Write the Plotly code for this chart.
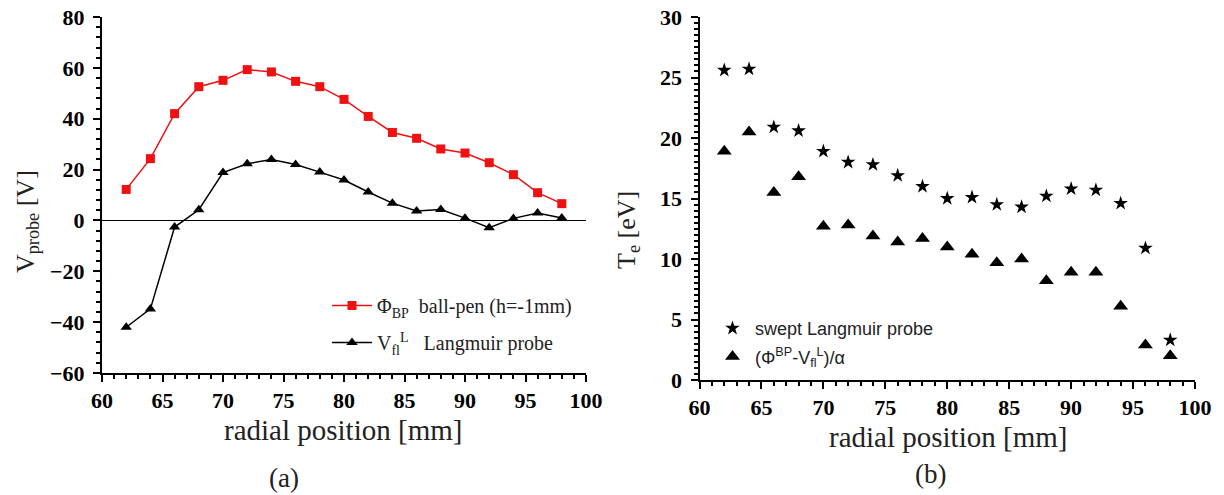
import plotly.graph_objects as go

# ---- data ----
r_mm = [62, 64, 66, 68, 70, 72, 74, 76, 78, 80, 82, 84, 86, 88, 90, 92, 94, 96, 98]
phi_bp = [12.2, 24.3, 42.0, 52.6, 55.1, 59.3, 58.4, 54.7, 52.6, 47.6, 40.9, 34.6, 32.3, 28.1, 26.5, 22.7, 18.0, 10.9, 6.6]
v_fl = [-42.0, -34.8, -2.6, 4.2, 18.8, 22.3, 24.0, 22.0, 19.0, 15.9, 11.2, 6.8, 3.7, 4.3, 0.9, -2.9, 0.8, 2.9, 1.0]
te_swept = [25.6, 25.7, 20.9, 20.6, 18.9, 18.0, 17.8, 16.9, 16.0, 15.0, 15.1, 14.5, 14.3, 15.2, 15.8, 15.7, 14.6, 10.9, 3.3]
te_bp = [18.9, 20.5, 15.5, 16.8, 12.7, 12.8, 11.9, 11.4, 11.7, 11.0, 10.4, 9.7, 10.0, 8.2, 8.9, 8.9, 6.1, 2.9, 2.0]

x_ticks = [60, 65, 70, 75, 80, 85, 90, 95, 100]
yl_ticks = [-60, -40, -20, 0, 20, 40, 60, 80]
yr_ticks = [0, 5, 10, 15, 20, 25, 30]

# the page has an 8px body margin: the figure starts at (8, 8) and fills the rest of the window
OFF = 8
W, H = 1224 - OFF, 495 - OFF
SERIF = "Liberation Serif"
SANS = "Liberation Sans"

def fx(sx):
    return (sx - OFF) / W

def fy(sy):
    return 1 - (sy - OFF) / H

fig = go.Figure()

fig.add_trace(go.Scatter(
    x=r_mm, y=phi_bp, mode="lines+markers",
    name="Φ<sub>BP</sub>  ball-pen (h=-1mm)", legendgroup="a1",
    line=dict(color="#ee1111", width=1.5),
    marker=dict(symbol="square", size=9, color="#ee1111"),
    xaxis="x", yaxis="y", legend="legend"))
fig.add_trace(go.Scatter(
    x=r_mm, y=v_fl, mode="lines+markers",
    name="V<sub>fl</sub><sup>L</sup>   Langmuir probe", legendgroup="a2",
    line=dict(color="black", width=1.5),
    marker=dict(symbol="triangle-up", size=10, color="black"),
    xaxis="x", yaxis="y", legend="legend"))
fig.add_trace(go.Scatter(
    x=r_mm, y=te_swept, mode="markers",
    name="swept Langmuir probe", legendgroup="b1",
    marker=dict(symbol="star", size=11, color="black"),
    xaxis="x2", yaxis="y2", legend="legend2"))
fig.add_trace(go.Scatter(
    x=r_mm, y=te_bp, mode="markers",
    name="(Φ<sup>BP</sup>-V<sub>fl</sub><sup>L</sup>)/α", legendgroup="b2",
    marker=dict(symbol="triangle-up", size=13, color="black"),
    xaxis="x2", yaxis="y2", legend="legend2"))

TICKFONT = dict(family=SERIF, size=22, color="black", weight="bold")

def xax(domain, anchor):
    return dict(domain=domain, anchor=anchor, range=[60, 100],
                tickmode="array", tickvals=x_ticks,
                showline=True, linecolor="black", linewidth=2, mirror=False,
                ticks="outside", ticklen=7, tickwidth=2, tickcolor="black",
                minor=dict(tickmode="linear", tick0=60, dtick=1, ticks="outside",
                           ticklen=4, tickwidth=1.5, tickcolor="black", showgrid=False),
                showgrid=False, zeroline=False, tickfont=TICKFONT, automargin=False,
                ticklabeloverflow="allow")

def yax(domain, anchor, rng, vals, minor_dtick, zl):
    return dict(domain=domain, anchor=anchor, range=rng,
                tickmode="array", tickvals=vals,
                showline=True, linecolor="black", linewidth=2,
                ticks="outside", ticklen=7, tickwidth=2, tickcolor="black",
                minor=dict(tickmode="linear", tick0=0, dtick=minor_dtick, ticks="outside",
                           ticklen=4, tickwidth=1.5, tickcolor="black", showgrid=False),
                showgrid=False, zeroline=zl, zerolinecolor="black", zerolinewidth=1,
                tickfont=TICKFONT, ticklabelstandoff=4, automargin=False,
                ticklabeloverflow="allow")

fig.update_layout(
    template="none",
    font=dict(family=SERIF, color="#222"),
    width=W, height=H, margin=dict(l=0, r=0, t=0, b=0, autoexpand=False),
    paper_bgcolor="white", plot_bgcolor="white",
    xaxis=xax([fx(102), fx(586)], "y"),
    yaxis=yax([fy(373), fy(17)], "x", [-60, 80], yl_ticks, 4, True),
    xaxis2=xax([fx(699.5), fx(1195)], "y2"),
    yaxis2=yax([fy(380), fy(17)], "x2", [0, 30], yr_ticks, 0.5, False),
    legend=dict(x=fx(327), y=fy(286), xanchor="left", yanchor="top",
                bgcolor="rgba(0,0,0,0)", font=dict(family=SERIF, size=20, color="#222"),
                tracegroupgap=8, itemwidth=40),
    legend2=dict(x=fx(710), y=fy(310), xanchor="left", yanchor="top",
                 bgcolor="rgba(0,0,0,0)", font=dict(family=SANS, size=18, color="#222"),
                 tracegroupgap=2, itemwidth=35),
    showlegend=True,
)

ann = [
    dict(text="radial position [mm]", x=fx(343), y=fy(430), size=29),
    dict(text="radial position [mm]", x=fx(948), y=fy(437), size=29),
    dict(text="V<sub>probe</sub> [V]", x=fx(27), y=fy(222), size=26, angle=-90),
    dict(text="T<sub>e</sub> [eV]", x=fx(628), y=fy(230), size=26, angle=-90),
    dict(text="(a)", x=fx(284), y=fy(478), size=27),
    dict(text="(b)", x=fx(930), y=fy(474), size=27),
]
annotations = []
for a in ann:
    annotations.append(dict(text=a["text"], x=a["x"], y=a["y"], xref="paper", yref="paper",
                            showarrow=False, xanchor="center", yanchor="middle",
                            textangle=a.get("angle", 0),
                            font=dict(family=SERIF, size=a["size"], color="#222")))
fig.update_layout(annotations=annotations)

fig.write_html("out.html")
